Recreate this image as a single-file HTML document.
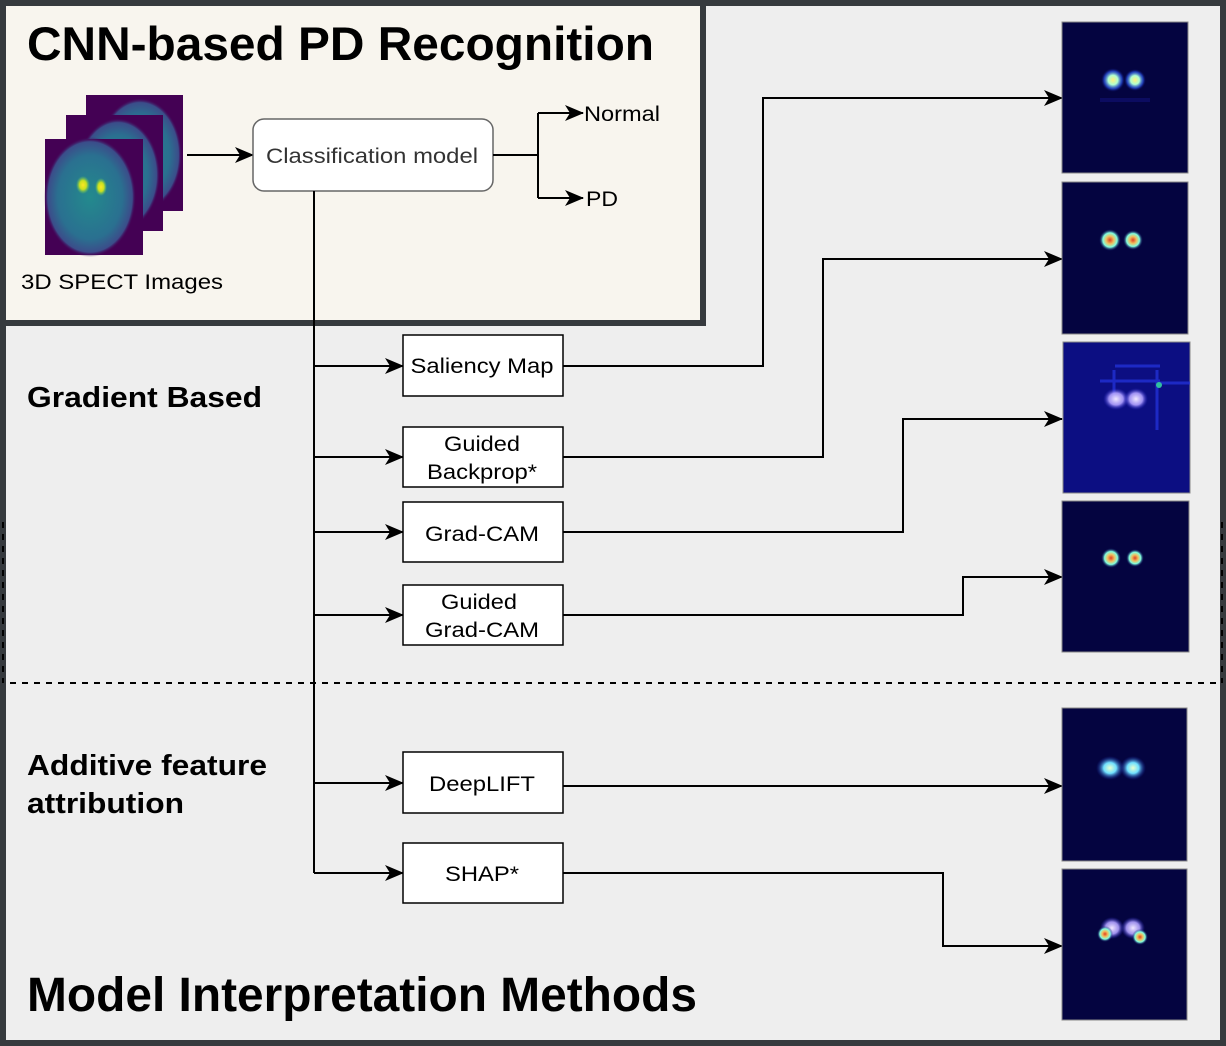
<!DOCTYPE html>
<html><head><style>
body{margin:0;width:1226px;height:1046px;overflow:hidden;background:#363a3e;}
svg{display:block;font-family:"Liberation Sans",sans-serif;}
</style></head><body>
<svg width="1226" height="1046" viewBox="0 0 1226 1046">
<defs>
<marker id="a" markerWidth="20" markerHeight="16" refX="18" refY="8" orient="auto" markerUnits="userSpaceOnUse">
<path d="M0,0 L19,8 L0,16 L5,8 Z" fill="#000"/></marker>
<radialGradient id="y"><stop offset="0" stop-color="#fff080"/><stop offset="0.4" stop-color="#b0ffd0"/><stop offset="0.75" stop-color="#3060ff" stop-opacity="0.6"/><stop offset="1" stop-color="#0a0a60" stop-opacity="0"/></radialGradient>
<radialGradient id="r"><stop offset="0" stop-color="#e04020"/><stop offset="0.35" stop-color="#f0c060"/><stop offset="0.65" stop-color="#80ffe0"/><stop offset="1" stop-color="#0a0a60" stop-opacity="0"/></radialGradient>
<radialGradient id="w"><stop offset="0" stop-color="#f0e8ff"/><stop offset="0.55" stop-color="#b0a0ff" stop-opacity="0.9"/><stop offset="1" stop-color="#2020c0" stop-opacity="0"/></radialGradient>
<radialGradient id="c"><stop offset="0" stop-color="#e8ffd0"/><stop offset="0.45" stop-color="#70e0ff"/><stop offset="1" stop-color="#1020a0" stop-opacity="0"/></radialGradient>
<radialGradient id="v"><stop offset="0" stop-color="#238a8d"/><stop offset="0.7" stop-color="#2a7090"/><stop offset="0.92" stop-color="#3b4d8a"/><stop offset="1" stop-color="#440154" stop-opacity="0"/></radialGradient>
<radialGradient id="vy"><stop offset="0" stop-color="#fde725"/><stop offset="0.5" stop-color="#c8e020"/><stop offset="1" stop-color="#5ec962" stop-opacity="0"/></radialGradient>
</defs>
<rect x="6" y="6" width="1214" height="1034" fill="#eeeeee"/>
<rect x="3" y="3" width="700" height="320" fill="#f8f5ee" stroke="#363a3e" stroke-width="6"/>
<text x="27" y="60" font-size="47" font-weight="bold" textLength="627" lengthAdjust="spacingAndGlyphs">CNN-based PD Recognition</text>
<rect x="86" y="95" width="97" height="116" fill="#440154"/><ellipse cx="140" cy="155" rx="42" ry="57" fill="url(#v)"/>
<rect x="66" y="115" width="97" height="116" fill="#440154"/><ellipse cx="118" cy="175" rx="42" ry="57" fill="url(#v)"/>
<rect x="45" y="139" width="98" height="116" fill="#440154"/><ellipse cx="90" cy="197" rx="46" ry="60" fill="url(#v)"/>
<ellipse cx="83" cy="185" rx="7" ry="9" fill="url(#vy)"/><ellipse cx="101" cy="187" rx="6" ry="9" fill="url(#vy)"/>
<text x="21" y="289" font-size="21" textLength="202" lengthAdjust="spacingAndGlyphs">3D SPECT Images</text>
<line x1="187" y1="155" x2="253" y2="155" stroke="#000" stroke-width="2" marker-end="url(#a)"/>
<rect x="253" y="119" width="240" height="72" rx="11" fill="#fff" stroke="#666" stroke-width="1.5"/>
<text x="266" y="163" font-size="21" fill="#333" textLength="212" lengthAdjust="spacingAndGlyphs">Classification model</text>
<path d="M493,155 H538 M538,113 V198" stroke="#000" stroke-width="2" fill="none"/>
<line x1="538" y1="113" x2="583" y2="113" stroke="#000" stroke-width="2" marker-end="url(#a)"/>
<line x1="538" y1="198" x2="583" y2="198" stroke="#000" stroke-width="2" marker-end="url(#a)"/>
<text x="584" y="121" font-size="21" textLength="76" lengthAdjust="spacingAndGlyphs">Normal</text>
<text x="586" y="206" font-size="21" textLength="32" lengthAdjust="spacingAndGlyphs">PD</text>
<line x1="10" y1="683" x2="1220" y2="683" stroke="#000" stroke-width="2" stroke-dasharray="6,6"/>
<line x1="3" y1="522" x2="3" y2="683" stroke="#000" stroke-width="2" stroke-dasharray="6,6"/>
<line x1="1222" y1="522" x2="1222" y2="683" stroke="#000" stroke-width="2" stroke-dasharray="6,6"/>
<text x="27" y="407" font-size="29" font-weight="bold" textLength="235" lengthAdjust="spacingAndGlyphs">Gradient Based</text>
<text x="27" y="775" font-size="29" font-weight="bold" textLength="240" lengthAdjust="spacingAndGlyphs">Additive feature</text>
<text x="27" y="813" font-size="29" font-weight="bold" textLength="157" lengthAdjust="spacingAndGlyphs">attribution</text>
<text x="27" y="1011" font-size="48" font-weight="bold" textLength="670" lengthAdjust="spacingAndGlyphs">Model Interpretation Methods</text>
<line x1="314" y1="191" x2="314" y2="873" stroke="#000" stroke-width="2"/>
<g stroke="#000" stroke-width="2" marker-end="url(#a)">
<line x1="314" y1="366" x2="403" y2="366"/><line x1="314" y1="457" x2="403" y2="457"/>
<line x1="314" y1="532" x2="403" y2="532"/><line x1="314" y1="615" x2="403" y2="615"/>
<line x1="314" y1="783" x2="403" y2="783"/><line x1="314" y1="873" x2="403" y2="873"/>
</g>
<g fill="#fff" stroke="#000" stroke-width="1.5">
<rect x="403" y="335" width="160" height="61"/><rect x="403" y="427" width="160" height="60"/>
<rect x="403" y="502" width="160" height="60"/><rect x="403" y="585" width="160" height="60"/>
<rect x="403" y="752" width="160" height="61"/><rect x="403" y="843" width="160" height="60"/>
</g>
<g font-size="21" text-anchor="middle">
<text x="482" y="373" textLength="143" lengthAdjust="spacingAndGlyphs">Saliency Map</text>
<text x="482" y="451" textLength="76" lengthAdjust="spacingAndGlyphs">Guided</text><text x="482" y="479" textLength="110" lengthAdjust="spacingAndGlyphs">Backprop*</text>
<text x="482" y="541" textLength="114" lengthAdjust="spacingAndGlyphs">Grad-CAM</text>
<text x="479" y="609" textLength="76" lengthAdjust="spacingAndGlyphs">Guided</text><text x="482" y="637" textLength="114" lengthAdjust="spacingAndGlyphs">Grad-CAM</text>
<text x="482" y="791" textLength="106" lengthAdjust="spacingAndGlyphs">DeepLIFT</text>
<text x="482" y="881" textLength="74" lengthAdjust="spacingAndGlyphs">SHAP*</text>
</g>
<g stroke="#000" stroke-width="2" fill="none" marker-end="url(#a)">
<path d="M563,366 H763 V98 H1062"/>
<path d="M563,457 H823 V259 H1062"/>
<path d="M563,532 H903 V419 H1062"/>
<path d="M563,615 H963 V577 H1062"/>
<path d="M563,786 H1062"/>
<path d="M563,873 H943 V946 H1062"/>
</g>
<g stroke="#888" stroke-width="1">
<rect x="1062" y="22" width="126" height="151" fill="#040440"/>
<rect x="1062" y="182" width="126" height="152" fill="#040440"/>
<rect x="1063" y="342" width="127" height="151" fill="#0c0e82"/>
<rect x="1062" y="501" width="127" height="151" fill="#040440"/>
<rect x="1062" y="708" width="125" height="153" fill="#040440"/>
<rect x="1062" y="869" width="125" height="151" fill="#040440"/>
</g>
<rect x="1100" y="98" width="50" height="4" fill="#1a1a90" opacity="0.4"/>
<circle cx="1113" cy="80" r="12" fill="url(#y)"/><circle cx="1135" cy="80" r="11" fill="url(#y)"/>
<circle cx="1110" cy="240" r="11" fill="url(#r)"/><circle cx="1133" cy="240" r="10" fill="url(#r)"/>
<path d="M1100,381 H1160 M1115,366 H1160 M1114,370 V400 M1157,370 V430 M1160,383 H1190" stroke="#2535e0" stroke-width="3" opacity="0.7"/>
<circle cx="1159" cy="385" r="3" fill="#30c0a0"/>
<ellipse cx="1116" cy="399" rx="13" ry="11" fill="url(#w)"/><ellipse cx="1136" cy="399" rx="12" ry="11" fill="url(#w)"/>
<circle cx="1111" cy="558" r="10" fill="url(#r)"/><circle cx="1135" cy="558" r="9" fill="url(#r)"/>
<ellipse cx="1110" cy="768" rx="14" ry="12" fill="url(#c)"/><ellipse cx="1133" cy="768" rx="13" ry="12" fill="url(#c)"/>
<ellipse cx="1112" cy="928" rx="12" ry="11" fill="url(#w)"/><ellipse cx="1133" cy="928" rx="12" ry="11" fill="url(#w)"/>
<circle cx="1105" cy="934" r="8" fill="url(#r)"/><circle cx="1140" cy="937" r="8" fill="url(#r)"/>
</svg>
</body></html>
